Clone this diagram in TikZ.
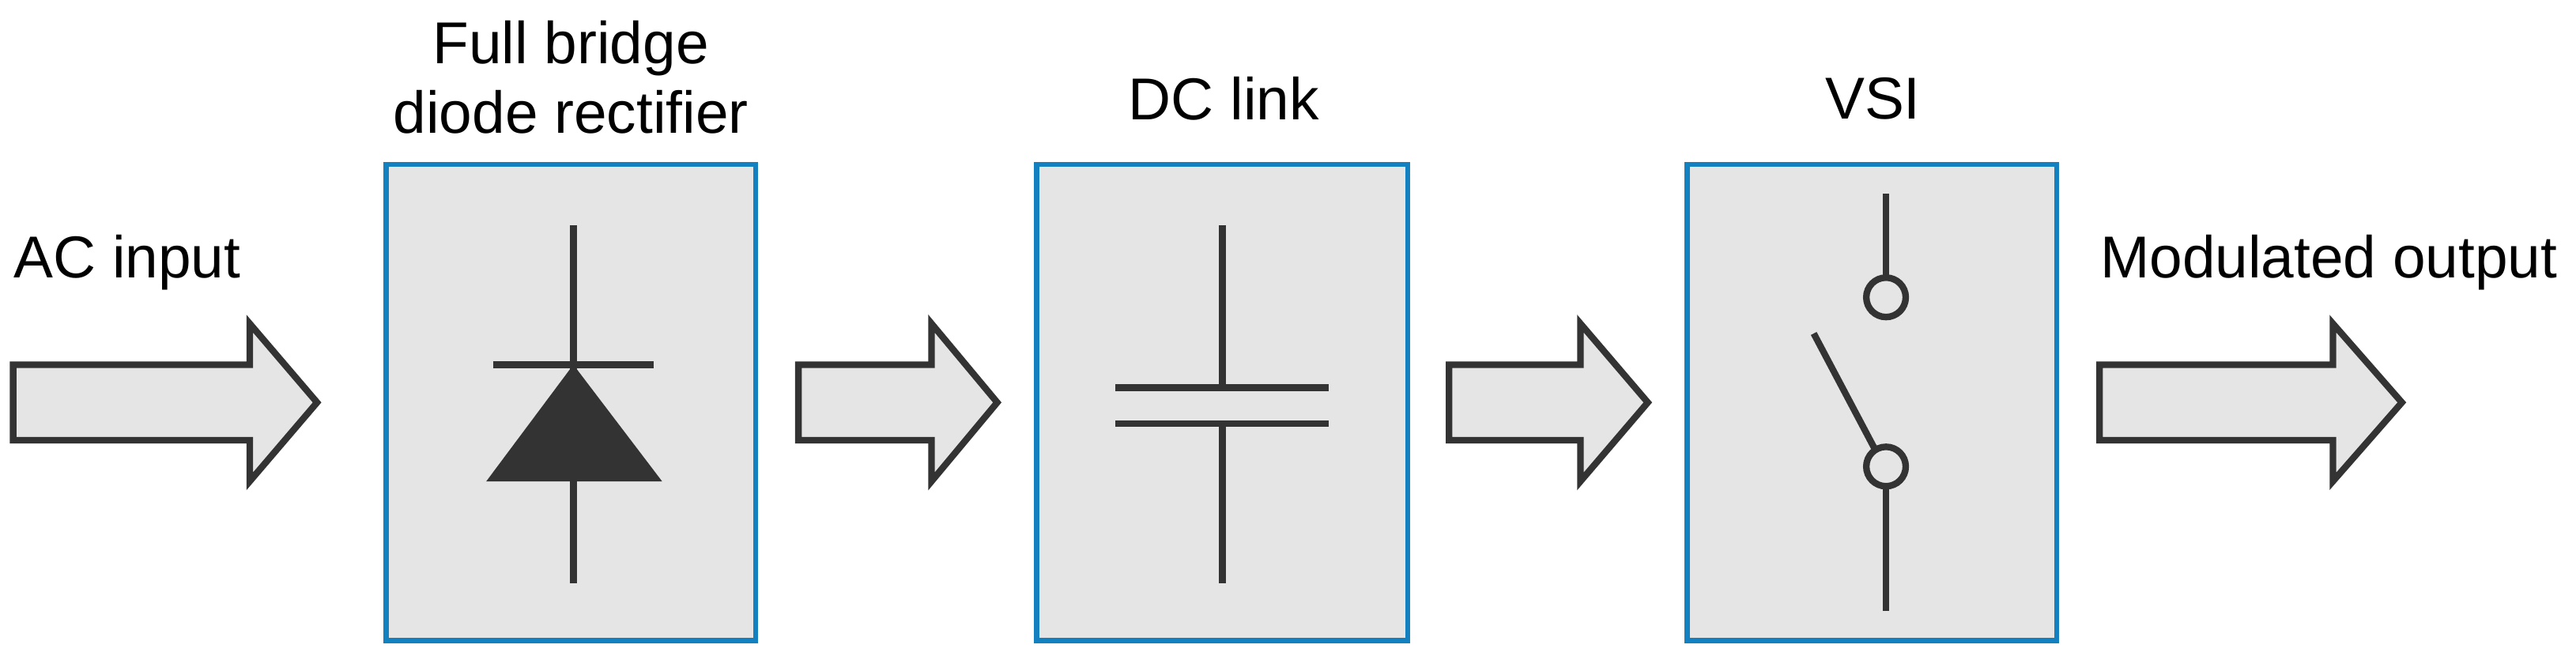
\documentclass[tikz,border=0pt]{standalone}
\usepackage{fontspec}
\setmainfont{Liberation Sans}
\definecolor{dk}{HTML}{333333}
\definecolor{fl}{HTML}{E5E5E5}
\definecolor{bl}{HTML}{1380BF}
\begin{document}
\begin{tikzpicture}[x=0.5pt,y=-0.5pt,
  box/.style={draw=bl,line width=1.5pt,fill=fl},
  arr/.style={draw=dk,line width=2pt,fill=fl,miter limit=10},
  sym/.style={draw=dk,line width=2pt},
  lbl/.style={font=\fontsize{18pt}{21pt}\selectfont,align=center,inner sep=0pt}]
\useasboundingbox (0,0) rectangle (1568,408);
% boxes
\draw[box] (235,100) rectangle (460,390);
\draw[box] (631,100) rectangle (857,390);
\draw[box] (1027,100) rectangle (1252,390);
% arrows
\newcommand{\fatarrow}[3]{\draw[arr] (#1,222) -- (#2,222) -- (#2,197) -- (#3,245) -- (#2,293) -- (#2,268) -- (#1,268) -- cycle;}
\fatarrow{8}{152}{193}
\fatarrow{486}{567}{607}
\fatarrow{882}{962}{1003}
\fatarrow{1278}{1420}{1462}
% labels
\node[lbl] (t1) at (347.5,47) {Full bridge\\diode rectifier};
\node[lbl] (t2) at (745,60) {DC link};
\node[lbl] (t3) at (1140,60) {VSI};
\node[lbl,anchor=west] (t0) at (8,160) {AC input};
\node[lbl,anchor=west] (t4) at (1278,160) {Modulated output};
% diode
\draw[sym] (349,137) -- (349,355);
\draw[sym] (300,222) -- (398,222);
\fill[dk] (349,222) -- (403,293) -- (296,293) -- cycle;
% capacitor
\draw[sym] (744,137) -- (744,236);
\draw[sym] (679,236) -- (809,236);
\draw[sym] (679,258) -- (809,258);
\draw[sym] (744,258) -- (744,355);
% switch
\draw[sym] (1148,118) -- (1148,169);
\draw[sym] (1148,181) circle (12);
\draw[sym] (1104,203) -- (1141,273);
\draw[sym] (1148,284) circle (12);
\draw[sym] (1148,296) -- (1148,372);
\end{tikzpicture}
\end{document}
